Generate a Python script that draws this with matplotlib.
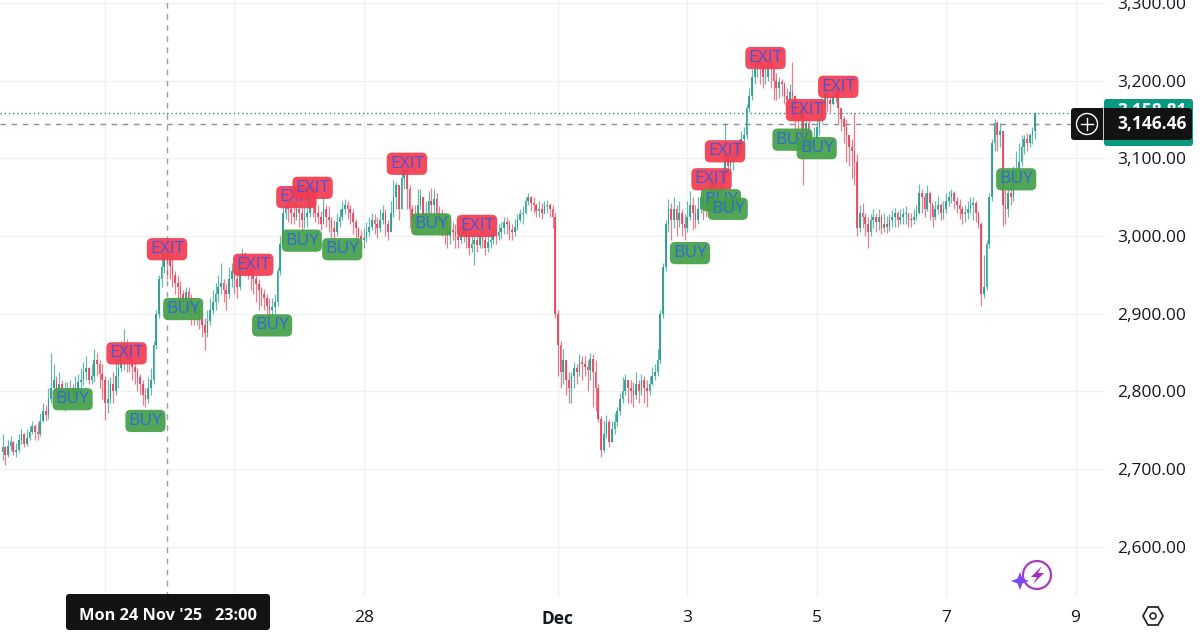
import pandas as pd
import matplotlib
matplotlib.use("Agg")
import matplotlib.pyplot as plt
import matplotlib.dates as mdates
from matplotlib.patches import Arc, Circle, FancyBboxPatch, Polygon, Rectangle

plt.rcParams["font.family"] = ["Open Sans", "DejaVu Sans"]

W, H = 1200, 636
PANE_W, PANE_H = 1105, 597
UP = "#2b9c8d"
DOWN = "#e4475f"
GRID = "#f1f1f3"
INK = "#131722"

# hourly candles, first one on 22 Nov 10:00, 12 per row
closes = [
    2728, 2718, 2730, 2735, 2722, 2725, 2738, 2745, 2732, 2740, 2748, 2755,
    2748, 2745, 2762, 2775, 2770, 2790, 2805, 2815, 2800, 2810, 2792, 2795,
    2802, 2805, 2795, 2800, 2812, 2815, 2825, 2830, 2815, 2820, 2840, 2835,
    2822, 2815, 2785, 2790, 2810, 2800, 2820, 2830, 2850, 2860, 2845, 2840,
    2832, 2825, 2818, 2810, 2795, 2790, 2805, 2815, 2860, 2900, 2945, 2960,
    2975, 2970, 2962, 2950, 2940, 2935, 2925, 2915, 2928, 2920, 2908, 2900,
    2905, 2895, 2885, 2875, 2890, 2905, 2915, 2925, 2935, 2940, 2930, 2925,
    2945, 2955, 2945, 2935, 2960, 2975, 2965, 2960, 2950, 2945, 2938, 2930,
    2925, 2920, 2910, 2905, 2908, 2915, 2955, 2990, 3030, 3040, 3035, 3030,
    3025, 3035, 3030, 3020, 3025, 3030, 3045, 3040, 3030, 3025, 3015, 3035,
    3025, 3020, 3010, 3005, 3018, 3025, 3035, 3040, 3035, 3030, 3018, 3010,
    3000, 2995, 2998, 3005, 3012, 3020, 3015, 3010, 3020, 3030, 3015, 3005,
    3030, 3050, 3065, 3035, 3075, 3085, 3060, 3035, 3020, 3015, 3040, 3050,
    3025, 3030, 3045, 3040, 3048, 3030, 3020, 3015, 3010, 3000, 3008, 3005,
    3000, 2995, 3002, 3010, 3000, 2985, 2990, 2995, 2988, 3000, 2995, 2985,
    2992, 2995, 3002, 3000, 3005, 3010, 3018, 3015, 3008, 3005, 3012, 3020,
    3028, 3030, 3045, 3050, 3042, 3040, 3032, 3035, 3030, 3038, 3040, 3035,
    3025, 2900, 2860, 2825, 2840, 2815, 2805, 2820, 2830, 2825, 2838, 2835,
    2832, 2828, 2842, 2825, 2805, 2765, 2725, 2745, 2760, 2735, 2752, 2760,
    2775, 2790, 2800, 2815, 2805, 2800, 2795, 2810, 2800, 2815, 2805, 2800,
    2810, 2820, 2825, 2840, 2900, 2960, 3015, 3035, 3020, 3035, 3020, 3030,
    3015, 3010, 3025, 3040, 3030, 3020, 3035, 3050, 3042, 3035, 3055, 3070,
    3062, 3055, 3060, 3065, 3105, 3090, 3095, 3100, 3110, 3115, 3125, 3130,
    3165, 3180, 3205, 3215, 3225, 3220, 3205, 3205, 3220, 3215, 3200, 3190,
    3198, 3195, 3180, 3175, 3185, 3180, 3155, 3150, 3165, 3130, 3145, 3130,
    3120, 3125, 3140, 3150, 3170, 3185, 3175, 3170, 3180, 3190, 3165, 3150,
    3140, 3130, 3115, 3110, 3095, 3010, 3030, 3025, 3015, 3005, 3020, 3025,
    3018, 3025, 3010, 3015, 3012, 3020, 3025, 3030, 3020, 3025, 3028, 3030,
    3022, 3020, 3025, 3030, 3055, 3050, 3035, 3055, 3042, 3025, 3035, 3040,
    3030, 3035, 3045, 3050, 3055, 3045, 3040, 3035, 3028, 3030, 3035, 3040,
    3042, 3030, 3015, 2925, 2935, 2990, 3050, 3120, 3145, 3130, 3135, 3040,
    3035, 3055, 3050, 3070, 3085, 3095, 3115, 3125, 3120, 3130, 3135, 3158,
]
highs = [
    2745, 2730, 2738, 2742, 2736, 2734, 2745, 2752, 2746, 2752, 2755, 2762,
    2758, 2760, 2772, 2785, 2782, 2805, 2850, 2835, 2820, 2825, 2815, 2812,
    2812, 2815, 2810, 2820, 2822, 2830, 2838, 2845, 2832, 2835, 2855, 2850,
    2840, 2835, 2820, 2815, 2818, 2825, 2838, 2845, 2865, 2880, 2868, 2860,
    2845, 2838, 2830, 2822, 2815, 2805, 2818, 2830, 2865, 2905, 2950, 2985,
    2985, 2980, 2978, 2975, 2955, 2950, 2942, 2930, 2935, 2935, 2925, 2920,
    2915, 2905, 2900, 2895, 2905, 2920, 2930, 2940, 2950, 2965, 2945, 2940,
    2960, 2965, 2960, 2955, 2975, 2985, 2980, 2975, 2965, 2962, 2950, 2945,
    2935, 2932, 2925, 2920, 2920, 2925, 2960, 3000, 3038, 3050, 3048, 3045,
    3042, 3045, 3040, 3040, 3038, 3042, 3055, 3055, 3045, 3040, 3032, 3050,
    3040, 3038, 3025, 3020, 3030, 3035, 3045, 3048, 3045, 3040, 3035, 3022,
    3012, 3008, 3010, 3018, 3025, 3030, 3028, 3025, 3035, 3040, 3035, 3020,
    3045, 3072, 3070, 3065, 3092, 3090, 3090, 3065, 3040, 3040, 3060, 3060,
    3050, 3045, 3058, 3062, 3060, 3055, 3038, 3035, 3028, 3020, 3020, 3018,
    3015, 3012, 3014, 3018, 3015, 3010, 3002, 3004, 3002, 3008, 3005, 3005,
    3002, 3005, 3010, 3008, 3015, 3018, 3025, 3025, 3020, 3015, 3022, 3028,
    3035, 3038, 3050, 3055, 3052, 3050, 3042, 3045, 3042, 3045, 3046, 3042,
    3040, 3030, 2905, 2865, 2855, 2840, 2825, 2825, 2838, 2835, 2848, 2845,
    2845, 2840, 2850, 2848, 2840, 2810, 2768, 2762, 2770, 2765, 2762, 2772,
    2780, 2798, 2818, 2822, 2815, 2815, 2812, 2825, 2815, 2822, 2820, 2815,
    2820, 2832, 2835, 2855, 2905, 2965, 3020, 3048, 3042, 3050, 3040, 3045,
    3035, 3028, 3045, 3058, 3050, 3040, 3050, 3062, 3060, 3058, 3075, 3078,
    3075, 3070, 3072, 3078, 3145, 3110, 3108, 3112, 3122, 3125, 3135, 3140,
    3170, 3190, 3215, 3225, 3232, 3230, 3222, 3218, 3228, 3225, 3218, 3210,
    3205, 3202, 3198, 3190, 3195, 3224, 3182, 3165, 3172, 3165, 3155, 3150,
    3135, 3140, 3152, 3155, 3178, 3190, 3188, 3182, 3188, 3195, 3192, 3165,
    3155, 3150, 3130, 3125, 3158, 3105, 3040, 3042, 3030, 3025, 3028, 3035,
    3030, 3035, 3028, 3030, 3026, 3028, 3034, 3036, 3032, 3035, 3036, 3038,
    3030, 3030, 3035, 3040, 3067, 3060, 3055, 3065, 3058, 3040, 3045, 3052,
    3042, 3045, 3055, 3058, 3060, 3058, 3050, 3048, 3038, 3040, 3045, 3050,
    3050, 3045, 3032, 3018, 2975, 2995, 3055, 3125, 3150, 3148, 3145, 3135,
    3060, 3062, 3075, 3090, 3110, 3120, 3130, 3130, 3132, 3132, 3140, 3160,
]
lows = [
    2712, 2705, 2716, 2724, 2718, 2715, 2722, 2732, 2728, 2730, 2738, 2745,
    2738, 2738, 2742, 2760, 2762, 2765, 2785, 2795, 2792, 2795, 2780, 2775,
    2788, 2785, 2790, 2790, 2795, 2800, 2808, 2815, 2810, 2810, 2812, 2820,
    2805, 2790, 2763, 2772, 2785, 2785, 2795, 2805, 2825, 2828, 2825, 2825,
    2815, 2810, 2800, 2795, 2782, 2780, 2785, 2795, 2810, 2855, 2895, 2935,
    2952, 2945, 2945, 2935, 2925, 2915, 2905, 2900, 2905, 2900, 2885, 2885,
    2885, 2880, 2870, 2853, 2870, 2885, 2900, 2905, 2915, 2925, 2915, 2905,
    2920, 2935, 2925, 2920, 2930, 2950, 2948, 2945, 2930, 2925, 2915, 2905,
    2910, 2905, 2895, 2895, 2898, 2900, 2910, 2950, 2985, 3022, 3018, 3015,
    3015, 3020, 3012, 3005, 3010, 3012, 3025, 3025, 3018, 3015, 3008, 3015,
    3012, 3005, 2998, 2990, 3000, 3012, 3020, 3028, 3022, 3015, 3002, 2995,
    2988, 2985, 2985, 2992, 3000, 3008, 3002, 2998, 3005, 3015, 3000, 2995,
    3010, 3025, 3035, 3020, 3035, 3060, 3035, 3010, 3005, 3005, 3010, 3035,
    3015, 3012, 3025, 3028, 3025, 3012, 3002, 3000, 2990, 2985, 2990, 2995,
    2985, 2985, 2990, 2992, 2985, 2975, 2980, 2963, 2980, 2985, 2985, 2975,
    2980, 2985, 2990, 2990, 2995, 2998, 3002, 3002, 2995, 2995, 3000, 3008,
    3018, 3015, 3028, 3040, 3032, 3030, 3025, 3025, 3022, 3028, 3030, 3025,
    3010, 2895, 2820, 2805, 2810, 2795, 2785, 2785, 2805, 2810, 2820, 2815,
    2820, 2800, 2815, 2780, 2775, 2760, 2716, 2722, 2740, 2728, 2735, 2745,
    2755, 2770, 2785, 2795, 2785, 2785, 2780, 2790, 2785, 2795, 2785, 2780,
    2795, 2808, 2815, 2820, 2835, 2895, 2955, 3005, 2995, 3010, 3000, 3012,
    3000, 2995, 3005, 3020, 3008, 3010, 3015, 3030, 3020, 3025, 3030, 3040,
    3040, 3040, 3045, 3050, 3060, 3075, 3085, 3085, 3098, 3100, 3110, 3115,
    3125, 3160, 3175, 3195, 3205, 3195, 3190, 3195, 3200, 3190, 3175, 3175,
    3178, 3180, 3170, 3160, 3165, 3150, 3130, 3130, 3135, 3066, 3120, 3115,
    3105, 3110, 3120, 3130, 3145, 3165, 3160, 3160, 3168, 3172, 3145, 3135,
    3120, 3095, 3090, 3075, 3065, 3000, 3005, 3010, 3000, 2985, 3000, 3010,
    3005, 3008, 3002, 3005, 3004, 3006, 3012, 3012, 3012, 3015, 3015, 3016,
    3012, 3012, 3015, 3020, 3028, 3030, 3025, 3032, 3020, 3012, 3020, 3028,
    3020, 3022, 3030, 3038, 3042, 3035, 3030, 3022, 3015, 3018, 3022, 3030,
    3020, 3018, 3010, 2910, 2920, 2930, 2985, 3045, 3110, 3110, 3115, 3013,
    3015, 3025, 3040, 3045, 3065, 3075, 3090, 3105, 3110, 3115, 3118, 3125,
]

signal_names = [
    "BUY", "EXIT", "BUY", "EXIT", "BUY", "EXIT", "BUY", "EXIT", "BUY", "EXIT",
    "BUY", "EXIT", "BUY", "EXIT", "BUY", "EXIT", "BUY", "BUY", "EXIT", "EXIT",
    "BUY", "BUY", "EXIT", "EXIT", "BUY",
]
signal_times = [
    "2025-11-23 12:00", "2025-11-24 08:00", "2025-11-24 15:00", "2025-11-24 23:00",
    "2025-11-25 05:00", "2025-11-26 07:00", "2025-11-26 14:00", "2025-11-26 23:00",
    "2025-11-27 01:00", "2025-11-27 05:00", "2025-11-27 16:00", "2025-11-28 16:00",
    "2025-11-29 01:00", "2025-11-29 18:00", "2025-12-03 01:00", "2025-12-03 09:00",
    "2025-12-03 12:30", "2025-12-03 15:00", "2025-12-03 14:00", "2025-12-04 05:00",
    "2025-12-04 15:00", "2025-12-05 00:00", "2025-12-04 20:00", "2025-12-05 08:00",
    "2025-12-08 02:00",
]
signal_prices = [
    2790, 2849, 2762, 2983, 2906, 2963, 2885, 3050, 2994, 3062,
    2983, 3093, 3015, 3013, 2978, 3073, 3046, 3035, 3109, 3229,
    3124, 3113, 3162, 3192, 3073,
]

price_ticks = [2600, 2700, 2800, 2900, 3000, 3100, 3200, 3300]
date_ticks = ["2025-11-24", "2025-11-26", "2025-11-28", "2025-12-01",
              "2025-12-03", "2025-12-05", "2025-12-07", "2025-12-09"]
date_labels = ["", "", "28", "Dec", "3", "5", "7", "9"]

last_price = 3158
cross_price = 3144
cross_time = "2025-11-24 23:00"


def px_box(ax, x0, y0, x1, y1, color, rounding=3.0, zorder=2):
    """Rounded box in overlay pixel coordinates."""
    ax.add_patch(FancyBboxPatch(
        (x0 + rounding, y0 + rounding), x1 - x0 - 2 * rounding, y1 - y0 - 2 * rounding,
        boxstyle=f"round,pad={rounding},rounding_size={rounding}",
        fc=color, ec="none", zorder=zorder))


def draw_candles(ax, times, opens):
    body_w = 1.7 / 64.7
    colors = [UP if c >= o else DOWN for o, c in zip(opens, closes)]
    heights = [abs(c - o) for o, c in zip(opens, closes)]
    bottoms = [min(o, c) for o, c in zip(opens, closes)]
    ax.vlines(times, lows, highs, colors=colors, lw=0.9, alpha=0.7, zorder=3)
    ax.bar(times, heights, bottom=bottoms, width=body_w, color=colors, lw=0,
           alpha=0.9, zorder=3)


def draw_signals(ax):
    for i, (name, t, p) in enumerate(zip(signal_names, signal_times, signal_prices)):
        face = "#43a047" if name == "BUY" else "#f23a50"
        ink = "#3568d8" if name == "BUY" else "#4a55d6"
        ax.text(mdates.date2num(pd.Timestamp(t)), p, name, color=ink,
                fontsize=12.5, ha="center", va="center", zorder=10 + i,
                bbox=dict(boxstyle="round,pad=0.18,rounding_size=0.3",
                          fc=face, ec="none", alpha=0.92))


def draw_overlay(ov):
    # price labels on the axis
    px_box(ov, 1104, 99, 1193, 146, "#089981")
    ov.text(1152, 111, "3,158.81", color="white", fontsize=12.5, ha="center",
            va="center", fontweight="bold", zorder=3)
    px_box(ov, 1071, 108, 1192, 140, "#131313", zorder=4)
    ov.add_patch(Rectangle((1103, 108), 1, 32, fc="#c8c8c8", ec="none", zorder=5))
    ov.text(1152, 124, "3,146.46", color="white", fontsize=12.5, ha="center",
            va="center", fontweight="bold", zorder=6)
    ov.add_patch(Circle((1087, 124), 10.5, fc="none", ec="white", lw=1, zorder=6))
    ov.plot([1081, 1093], [124, 124], color="white", lw=1, zorder=6)
    ov.plot([1087, 1087], [118, 130], color="white", lw=1, zorder=6)

    # crosshair time label
    px_box(ov, 66, 594, 270, 630, "#131313", rounding=3)
    ov.text(168, 616, "Mon 24 Nov '25   23:00", color="white", fontsize=11.8,
            ha="center", va="center", fontweight="bold", zorder=3)

    # the flash badge and the settings hexagon
    ov.add_patch(Arc((1037, 575), 28, 28, theta1=-230, theta2=130,
                     color="#a63cc0", lw=1.6, zorder=3))
    ov.add_patch(Polygon([(1042, 566), (1031, 577), (1037, 577), (1033, 584),
                          (1044, 573), (1038, 573)],
                         fc="#a02fb8", ec="none", zorder=3))
    ov.add_patch(Polygon([(1020, 572), (1022.5, 578.5), (1029, 581), (1022.5, 583.5),
                          (1020, 590), (1017.5, 583.5), (1011, 581), (1017.5, 578.5)],
                         fc="#7a4df0", ec="none", zorder=4))
    ov.add_patch(Polygon([(1143, 616), (1148, 607), (1158, 607), (1163, 616),
                          (1158, 625), (1148, 625)],
                         fc="none", ec="#26282c", lw=1.3, zorder=3))
    ov.add_patch(Circle((1153, 616), 3, fc="none", ec="#26282c", lw=1.2, zorder=3))


def main() -> None:
    fig = plt.figure(figsize=(W / 100, H / 100), dpi=100, facecolor="white")
    ax = fig.add_axes([0, 1 - PANE_H / H, PANE_W / W, PANE_H / H])

    times = mdates.date2num(pd.date_range("2025-11-22 10:00", periods=len(closes), freq="h"))
    opens = [2722] + closes[:-1]

    day_zero = mdates.date2num(pd.Timestamp("2025-11-24"))
    x_min = day_zero - 105 / 64.7
    ax.set_xlim(x_min, x_min + PANE_W / 64.7)
    ax.set_ylim(3000 - (PANE_H - 236) / 0.777, 3000 + 236 / 0.777)

    ax.set_yticks(price_ticks)
    ax.set_yticklabels([f"{p:,.2f}" for p in price_ticks])
    ax.yaxis.tick_right()
    ax.tick_params(axis="y", length=0, pad=8.6, labelsize=12.5, labelcolor=INK)
    ax.set_xticks([mdates.date2num(pd.Timestamp(d)) for d in date_ticks])
    ax.set_xticklabels(date_labels)
    ax.tick_params(axis="x", length=0, pad=9.5, labelsize=12.5, labelcolor=INK)
    for lab in ax.get_xticklabels():
        if lab.get_text() == "Dec":
            lab.set_fontweight("bold")
    ax.grid(True, color=GRID, lw=1)
    ax.set_axisbelow(True)
    for side in ax.spines.values():
        side.set_visible(False)

    draw_candles(ax, times, opens)

    ax.axhline(last_price, xmax=1071 / PANE_W, color="#2f8f88", lw=1, ls=(0, (1, 2)), zorder=2)
    ax.axhline(cross_price, xmax=1071 / PANE_W, color="#8a8e96", lw=1, ls=(0, (4, 4)), zorder=2)
    ax.axvline(mdates.date2num(pd.Timestamp(cross_time)), color="#9a9ea6", lw=1,
               ls=(0, (4, 4)), zorder=2)

    draw_signals(ax)

    ov = fig.add_axes([0, 0, 1, 1], zorder=5)
    ov.set_xlim(0, W)
    ov.set_ylim(H, 0)
    ov.axis("off")
    draw_overlay(ov)

    print(len(closes), len(highs), len(lows))
    fig.savefig("out.png", dpi=100)
    plt.close(fig)


if __name__ == "__main__":
    main()
